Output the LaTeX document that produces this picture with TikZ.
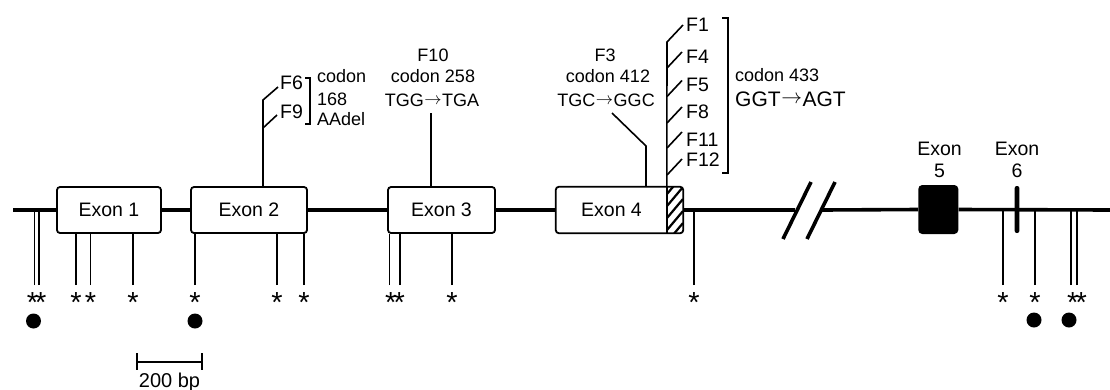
\documentclass[tikz,border=0pt]{standalone}
\usepackage{fontspec}
\setmainfont{Liberation Sans}
\newcommand{\myarrow}{\kern0.6pt\raisebox{0.1em}{$\rightarrow$}\kern0.6pt}
\begin{document}
\begin{tikzpicture}[x=1pt,y=-1pt,
  exonbox/.style={inner sep=0pt, font=\fontsize{19.5}{22}\selectfont},
  boxline/.style={line width=1.8pt},
  backbone/.style={line width=3.6pt},
  thin/.style={line width=1.6pt},
  lbl/.style={inner sep=0pt, font=\fontsize{18}{20}\selectfont},
  flbl/.style={inner sep=0pt, anchor=base west, font=\fontsize{19.5}{22}\selectfont},
  big/.style={inner sep=0pt, font=\fontsize{21}{24}\selectfont},
  starlbl/.style={inner sep=0pt, anchor=north, font=\fontsize{29}{29}\selectfont},
  dotnode/.style={circle, fill=black, inner sep=0pt, minimum size=15pt},
]
\useasboundingbox (0,0) rectangle (1110,389);

% ---------- exons ----------
\node[exonbox, draw, boxline, rounded corners=3pt, minimum width=104pt, minimum height=46pt] (e1) at (109,210) {Exon 1};
\node[exonbox, draw, boxline, rounded corners=3pt, minimum width=116pt, minimum height=46pt] (e2) at (249,210) {Exon 2};
\node[exonbox, draw, boxline, rounded corners=3pt, minimum width=107pt, minimum height=46pt] (e3) at (441.5,210) {Exon 3};
\node[exonbox, minimum width=111pt, minimum height=46pt] (e4) at (611.5,210) {Exon 4};
\node[inner sep=0pt, rounded corners=3pt, minimum width=16pt, minimum height=46pt,
  path picture={\foreach \k in {-2,...,4}{\draw[line width=2.2pt] ([yshift=\k*12pt+3pt]path picture bounding box.south west) -- ++(16pt,19pt);}}] (hatch) at (675,210) {};
\draw[boxline, rounded corners=3pt] (e4.south west) rectangle (hatch.north east);
\draw[boxline] (e4.north east) -- (e4.south east);
\node[fill=black, rounded corners=4pt, inner sep=0pt, minimum width=40pt, minimum height=49pt] (e5) at (938.3,209.5) {};
\node[exonbox, anchor=base] (e5a) at (939.5,155) {Exon};
\node[exonbox, anchor=base] (e5b) at (939.5,177) {5};
\node[exonbox, anchor=base] (e6a) at (1017,155) {Exon};
\node[exonbox, anchor=base] (e6b) at (1017,177) {6};

% ---------- backbone ----------
\coordinate (L0) at (13,210);
\coordinate (b1) at (795,210);
\coordinate (b2) at (822,210);
\coordinate (R0) at (1110,210);
\draw[backbone] (L0) -- (e1.west) (e1.east) -- (e2.west) (e2.east) -- (e3.west)
  (e3.east) -- (e4.west) (hatch.east) -- (b1) (b2) -- (e5.west) (e5.east) -- (R0);
\node[fill=black, rounded corners=2.2pt, inner sep=0pt, minimum width=4.8pt, minimum height=47pt] (e6) at (1017,209.5) {};
\coordinate (k1a) at (783,239); \coordinate (k1b) at (811,182);
\coordinate (k2a) at (807,239); \coordinate (k2b) at (835,182);
\draw[backbone] (k1a) -- (k1b) (k2a) -- (k2b);

% ---------- variants below ----------
\foreach \n/\x/\r in {s2/76/e1.south, s3/90.5/e1.south, s4/133/e1.south, s5/195/e2.south,
  s6/277/e2.south, s7/304/e2.south, s8/452/e3.south, s9/694/L0, s10/1003/L0, s11/1035/L0}{
  \node[starlbl] (\n) at (\x,292.5) {*};
  \draw[thin] (\n.north) ++(0,-7.5) -- (\n.north |- \r);
}
\node[starlbl] (s1) at (36.7,292.5) {*\kern-3pt*};
\path (s1.north) ++(-2.2,-7.5) coordinate (s1a) ++(4.5,0) coordinate (s1b);
\draw[thin] (s1a) -- (s1a |- L0) (s1b) -- (s1b |- L0);
\node[starlbl] (s12) at (395,292.5) {*\kern-3pt*};
\path (s12.north) ++(-5.5,-7.5) coordinate (s12a) ++(10.5,0) coordinate (s12b);
\draw[thin] (s12a) -- (s12a |- e3.south) (s12b) -- (s12b |- e3.south);
\node[starlbl] (s13) at (1077,292.5) {*\kern-3pt*};
\path (s13.north) ++(-6,-7.5) coordinate (s13a) ++(6,0) coordinate (s13b);
\draw[thin] (s13a) -- (s13a |- L0) (s13b) -- (s13b |- L0);

\node[dotnode] (d1) at (33.5,321) {};
\node[dotnode] (d2) at (195,321) {};
\node[dotnode] (d3) at (1034,320) {};
\node[dotnode] (d4) at (1069,320) {};

% ---------- scale bar ----------
\coordinate (sb1) at (137,362);
\coordinate (sb2) at (202,362);
\draw[line width=2pt] (sb1) -- (sb2);
\draw[line width=2pt] (sb1) ++(0,-9) -- ++(0,17) (sb2) ++(0,-9) -- ++(0,17);
\node[inner sep=0pt, anchor=base, font=\fontsize{20}{22}\selectfont] (sbl) at (169.5,387) {200 bp};

% ---------- exon 2: F6 / F9 ----------
\coordinate (j6) at (263,100);
\coordinate (j9) at (263,128);
\draw[thin] (e2.north -| j6) -- (j6) -- ++(15,-13);
\draw[thin] (j9) -- ++(14,-13);
\node[flbl] (f6) at (280,89) {F6};
\node[flbl] (f9) at (280,118) {F9};
\draw[thin] (305,78) -| (310,124) -- (305,124);
\node[lbl, anchor=base west] (c168a) at (317,82) {codon};
\node[lbl, anchor=base west] (c168b) at (317,105) {168};
\node[lbl, anchor=base west] (c168c) at (317,125) {AAdel};

% ---------- exon 3: F10 ----------
\node[lbl, anchor=base] (f10a) at (433,61) {F10};
\node[lbl, anchor=base] (f10b) at (433,82) {codon 258};
\node[lbl, anchor=base] (f10c) at (432,106) {TGG\myarrow TGA};
\coordinate (f10l) at (431,113);
\draw[thin] (f10l) -- (f10l |- e3.north);

% ---------- exon 4: F3 ----------
\node[lbl, anchor=base] (f3a) at (605,61.5) {F3};
\node[lbl, anchor=base] (f3b) at (608,82) {codon 412};
\node[lbl, anchor=base] (f3c) at (606,106) {TGC\myarrow GGC};
\coordinate (f3l) at (612,113);
\coordinate (f3k) at (646,146);
\draw[thin] (f3l) -- (f3k) -- (f3k |- e4.north);

% ---------- hatched region: codon 433 ----------
\coordinate (htop) at (667,42);
\draw[thin] (hatch.north west) -- (htop) -- ++(16,-17);
\node[flbl] (f1) at (686,31) {F1};
\foreach \n/\b/\t/\s in {f4/63/68/F4, f5/91/96.5/F5, f8/118/123/F8, f11/146/148/F11, f12/166/175/F12}{
  \node[flbl] (\n) at (686,\b) {\s};
  \draw[thin] (667,\t) -- ++(15,-16);
}
\draw[thin] (722,18) -| (728,173) -- (722,173);
\node[lbl, anchor=base west] (c433a) at (735,81) {codon 433};
\node[big, anchor=base west] (c433b) at (735,106) {GGT\myarrow AGT};
\end{tikzpicture}
\end{document}
